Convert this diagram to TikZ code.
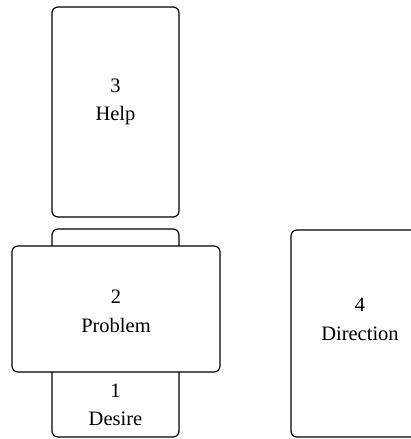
\documentclass[tikz,border=0pt]{standalone}
\usepackage{fontspec}
\setmainfont{Liberation Serif}
\begin{document}
\begin{tikzpicture}[x=1pt,y=-1pt,
  card/.style={draw=black,line width=1.2pt,rounded corners=6pt,fill=white},
  lbl/.style={anchor=base,inner sep=0pt,font=\fontsize{20.5}{24}\selectfont}]
\useasboundingbox (0,0) rectangle (411,439);
% box 1 (behind box 2)
\draw[card] (52,229) rectangle (179,437);
% box 2
\draw[card] (12,246) rectangle (220,372);
% box 3
\draw[card] (52,7) rectangle (179,217);
% box 4
\draw[card] (291,230) rectangle (432,437);
\node[lbl] (n3) at (115.5,92) {3};
\node[lbl] (t3) at (115.5,120) {Help};
\node[lbl] (n2) at (116,303) {2};
\node[lbl] (t2) at (116,332) {Problem};
\node[lbl] (n1) at (115.5,397) {1};
\node[lbl] (t1) at (115.5,425) {Desire};
\node[lbl] (n4) at (360,311) {4};
\node[lbl] (t4) at (360,340) {Direction};
\end{tikzpicture}
\end{document}
